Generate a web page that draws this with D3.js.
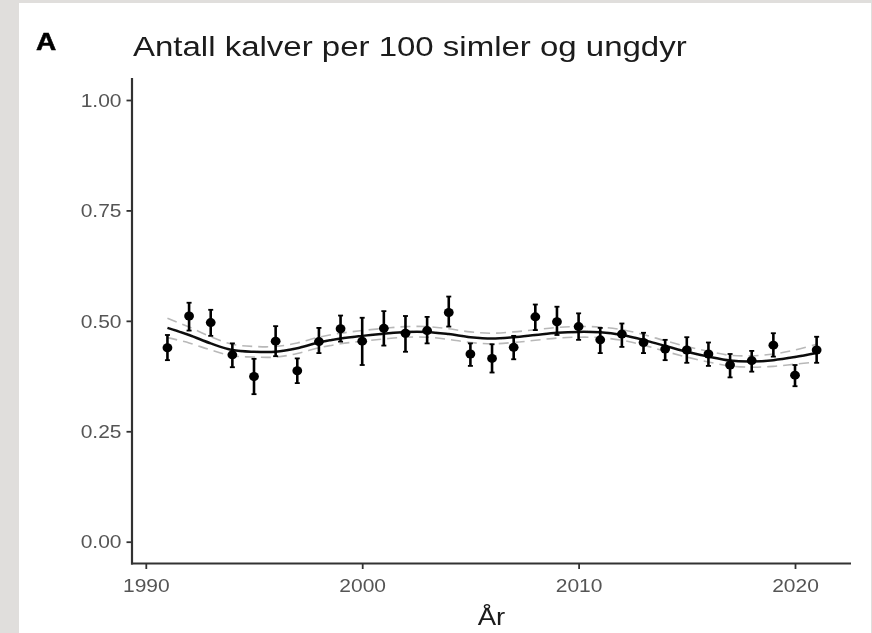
<!DOCTYPE html>
<html>
<head>
<meta charset="utf-8">
<script src="https://cdn.jsdelivr.net/npm/d3@7"></script>
<style>
  html, body { margin: 0; padding: 0; background: #e0dedc; }
  svg { display: block; }
  text { font-family: "Liberation Sans", Arial, Helvetica, sans-serif; }
</style>
</head>
<body>
<svg id="chart" width="872" height="633"></svg>
<script>
// ---- data ----
const years = d3.range(1991, 2022);
const meanVals = [0.439,0.511,0.496,0.423,0.374,0.454,0.387,0.453,0.482,0.454,0.483,0.472,0.478,0.519,0.425,0.415,0.440,0.509,0.498,0.487,0.457,0.470,0.451,0.436,0.434,0.425,0.400,0.410,0.445,0.377,0.434];
const lowerVals = [0.411,0.478,0.466,0.395,0.334,0.420,0.359,0.427,0.453,0.400,0.444,0.430,0.449,0.487,0.398,0.383,0.413,0.479,0.468,0.457,0.427,0.441,0.427,0.411,0.405,0.398,0.372,0.385,0.419,0.352,0.405];
const upperVals = [0.468,0.541,0.525,0.449,0.414,0.488,0.415,0.484,0.512,0.507,0.522,0.511,0.509,0.555,0.449,0.447,0.466,0.537,0.532,0.517,0.484,0.494,0.473,0.457,0.463,0.451,0.425,0.432,0.472,0.400,0.464];
const fitVals = [0.484,0.468,0.449,0.434,0.430,0.430,0.438,0.451,0.460,0.466,0.471,0.475,0.475,0.470,0.463,0.460,0.463,0.468,0.473,0.475,0.474,0.468,0.457,0.443,0.430,0.419,0.410,0.408,0.411,0.418,0.427];
const fitHalfCI = [0.022,0.018,0.015,0.013,0.012,0.012,0.012,0.012,0.012,0.012,0.012,0.012,0.012,0.012,0.012,0.012,0.012,0.012,0.012,0.012,0.012,0.012,0.012,0.012,0.012,0.012,0.012,0.013,0.014,0.016,0.020];
const xTicks = [1990, 2000, 2010, 2020];
const yTicks = [0, 0.25, 0.5, 0.75, 1.0];
const titleText = "Antall kalver per 100 simler og ungdyr";
const panelLabel = "A";
const xLabel = "År";

// ---- layout ----
const SX = 1.2; // horizontal text stretch of the reference
const svg = d3.select("#chart");
const defs = svg.append("defs");
defs.append("filter").attr("id", "soft").append("feGaussianBlur").attr("stdDeviation", 0.45);

svg.append("rect").attr("x", 19).attr("y", 3).attr("width", 852).attr("height", 630).attr("fill", "#ffffff");

const root = svg.append("g").attr("filter", "url(#soft)");

const x = d3.scaleLinear().domain([1990, 2020]).range([145.8, 795]);
const y = d3.scaleLinear().domain([0, 1]).range([541.7, 100]);
const axisX0 = 132, axisX1 = 851, axisY0 = 78, axisY1 = 563.5;

// title and panel label
root.append("text").attr("transform", `translate(36,50) scale(1.22,1)`)
  .attr("font-size", 23).attr("font-weight", "bold").attr("fill", "#000")
  .attr("stroke", "#000").attr("stroke-width", 0.5).text(panelLabel);
root.append("text").attr("transform", `translate(133,56) scale(${SX},1)`)
  .attr("font-size", 27.5).attr("fill", "#1a1a1a").text(titleText);

// axes
const gx = root.append("g").attr("transform", `translate(0,${axisY1})`)
  .call(d3.axisBottom(x).tickValues(xTicks).tickFormat(d3.format("d")).tickSize(5.5).tickSizeOuter(0));
gx.select(".domain").remove();
gx.selectAll(".tick line").attr("stroke", "#333").attr("stroke-width", 1.8);
gx.selectAll(".tick text").attr("x", null).attr("y", null).attr("dy", null)
  .attr("transform", `translate(0,28.5) scale(${SX},1)`)
  .attr("font-size", 17.5).attr("fill", "#555").attr("font-family", '"Liberation Sans", Arial, sans-serif');

const gy = root.append("g").attr("transform", `translate(${axisX0},0)`)
  .call(d3.axisLeft(y).tickValues(yTicks).tickFormat(d3.format(".2f")).tickSize(5.5).tickSizeOuter(0));
gy.select(".domain").remove();
gy.selectAll(".tick line").attr("stroke", "#333").attr("stroke-width", 1.8);
gy.selectAll(".tick text").attr("x", null).attr("dy", null)
  .attr("transform", `translate(-10.5,6.2) scale(${SX},1)`)
  .attr("font-size", 17.5).attr("fill", "#555").attr("font-family", '"Liberation Sans", Arial, sans-serif');

root.append("line").attr("x1", axisX0).attr("x2", axisX0).attr("y1", axisY0).attr("y2", axisY1 + 1)
  .attr("stroke", "#333").attr("stroke-width", 2.2);
root.append("line").attr("x1", axisX0 - 1).attr("x2", axisX1).attr("y1", axisY1).attr("y2", axisY1)
  .attr("stroke", "#333").attr("stroke-width", 2.2);

root.append("text").attr("transform", `translate(${(axisX0 + axisX1) / 2},625) scale(${SX},1)`)
  .attr("text-anchor", "middle").attr("font-size", 23).attr("fill", "#1a1a1a").text(xLabel);

// smooth fit with CI
const fitData = years.map((yr, i) => ({ yr, fit: fitVals[i], lo: fitVals[i] - fitHalfCI[i], hi: fitVals[i] + fitHalfCI[i] }));
const lineGen = key => d3.line().x(d => x(d.yr)).y(d => y(d[key])).curve(d3.curveCatmullRom.alpha(0.5));
root.append("path").datum(fitData).attr("d", lineGen("hi")).attr("fill", "none")
  .attr("stroke", "#b8b8b8").attr("stroke-width", 1.6).attr("stroke-dasharray", "10,6");
root.append("path").datum(fitData).attr("d", lineGen("lo")).attr("fill", "none")
  .attr("stroke", "#b8b8b8").attr("stroke-width", 1.6).attr("stroke-dasharray", "10,6");
root.append("path").datum(fitData).attr("d", lineGen("fit")).attr("fill", "none")
  .attr("stroke", "#111").attr("stroke-width", 2.5);

// point ranges
const pts = years.map((yr, i) => ({ yr, m: meanVals[i], lo: lowerVals[i], hi: upperVals[i] }));
const pg = root.append("g");
pg.selectAll("line.bar").data(pts).join("line").attr("class", "bar")
  .attr("x1", d => x(d.yr)).attr("x2", d => x(d.yr)).attr("y1", d => y(d.lo)).attr("y2", d => y(d.hi))
  .attr("stroke", "#000").attr("stroke-width", 2.6);
pg.selectAll("line.capT").data(pts).join("line").attr("class", "capT")
  .attr("x1", d => x(d.yr) - 2.5).attr("x2", d => x(d.yr) + 2.5).attr("y1", d => y(d.hi)).attr("y2", d => y(d.hi))
  .attr("stroke", "#000").attr("stroke-width", 1.8);
pg.selectAll("line.capB").data(pts).join("line").attr("class", "capB")
  .attr("x1", d => x(d.yr) - 2.5).attr("x2", d => x(d.yr) + 2.5).attr("y1", d => y(d.lo)).attr("y2", d => y(d.lo))
  .attr("stroke", "#000").attr("stroke-width", 1.8);
pg.selectAll("ellipse").data(pts).join("ellipse")
  .attr("cx", d => x(d.yr)).attr("cy", d => y(d.m)).attr("rx", 4.9).attr("ry", 4.5).attr("fill", "#000");
</script>
</body>
</html>
